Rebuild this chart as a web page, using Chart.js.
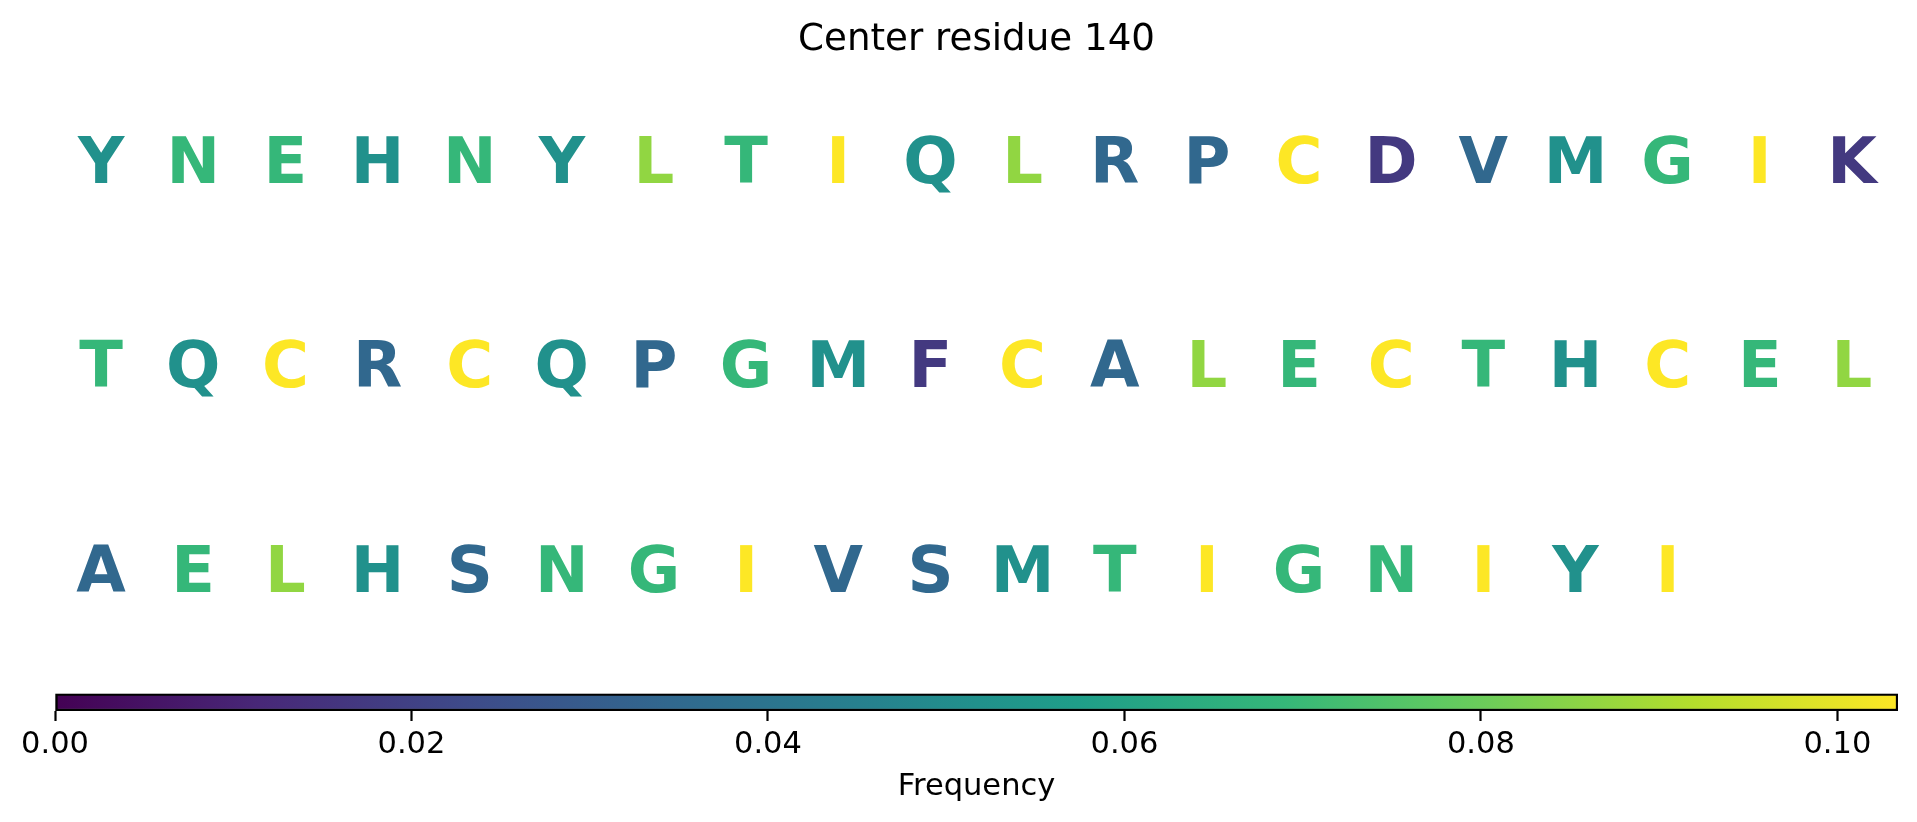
<!DOCTYPE html>
<html>
<head>
<meta charset="utf-8">
<title>Center residue 140</title>
<script src="https://cdn.jsdelivr.net/npm/chart.js@4.4.1/dist/chart.umd.min.js"></script>
<style>
  html, body { margin: 0; padding: 0; background: #ffffff; }
  body { width: 1917px; height: 822px; position: relative; overflow: hidden; }
  #letters-box { position: absolute; left: 0; top: 0; width: 1917px; height: 680px; }
  #cbar-box { position: absolute; left: 0; top: 680px; width: 1917px; height: 142px; }
</style>
</head>
<body>
<div id="letters-box"><canvas id="letters"></canvas></div>
<div id="cbar-box"><canvas id="cbar"></canvas></div>
<script>
// Residues shown in the window, one array per row of the grid
const row1 = ['Y','N','E','H','N','Y','L','T','I','Q','L','R','P','C','D','V','M','G','I','K'];
const row2 = ['T','Q','C','R','C','Q','P','G','M','F','C','A','L','E','C','T','H','C','E','L'];
const row3 = ['A','E','L','H','S','N','G','I','V','S','M','T','I','G','N','I','Y','I'];

// Frequency of each amino acid within the window
const aminoAcids = ['Y','N','E','H','L','T','I','Q','R','P','C','D','V','M','G','K','F','A','S'];
const frequency  = [0.0517, 0.0690, 0.0690, 0.0517, 0.0862, 0.0690, 0.1034, 0.0517, 0.0345, 0.0345,
                    0.1034, 0.0172, 0.0345, 0.0517, 0.0690, 0.0172, 0.0172, 0.0345, 0.0345];

// Colour bar range and tick labels
const cbarMin = 0;
const cbarMax = 0.1034;
const cbarTicks = [0.00, 0.02, 0.04, 0.06, 0.08, 0.10];

const titleText = 'Center residue 140';
const cbarLabel = 'Frequency';

// viridis colour map stops
const VIRIDIS = [
  [0, '#440154'], [1/9, '#482878'], [2/9, '#3e4a89'], [0.25, '#3b528b'],
  [1/3, '#31688e'], [4/9, '#26828e'], [0.5, '#21918c'], [5/9, '#1f9e89'],
  [2/3, '#35b779'], [0.75, '#5ec962'], [7/9, '#6dcd59'], [8/9, '#b4de2c'], [1, '#fde725']
];

function hexToRgb(h) {
  return [parseInt(h.slice(1, 3), 16), parseInt(h.slice(3, 5), 16), parseInt(h.slice(5, 7), 16)];
}
function viridis(t) {
  t = Math.max(0, Math.min(1, t));
  for (let i = 1; i < VIRIDIS.length; i++) {
    const [t1, c1] = VIRIDIS[i];
    if (t <= t1) {
      const [t0, c0] = VIRIDIS[i - 1];
      const f = (t - t0) / (t1 - t0);
      const a = hexToRgb(c0), b = hexToRgb(c1);
      const rgb = a.map((v, k) => Math.round(v + (b[k] - v) * f));
      return `rgb(${rgb[0]},${rgb[1]},${rgb[2]})`;
    }
  }
  return VIRIDIS[VIRIDIS.length - 1][1];
}
function colorFor(letter) {
  const f = frequency[aminoAcids.indexOf(letter)];
  return viridis((f - cbarMin) / (cbarMax - cbarMin));
}

Chart.defaults.font.family = "'DejaVu Sans', sans-serif";
Chart.defaults.color = '#000000';
Chart.defaults.animation = false;

// One point per residue: x = column, y = row
const rows = [row1, row2, row3];
const points = [];
rows.forEach((row, r) => row.forEach((letter, c) => points.push({ x: c, y: r, letter: letter })));

const LETTER_PX = 64;
const letterPlugin = {
  id: 'letterPlugin',
  afterDatasetsDraw(chart) {
    const ctx = chart.ctx;
    const meta = chart.getDatasetMeta(0);
    ctx.save();
    ctx.font = `bold ${LETTER_PX}px 'DejaVu Sans', sans-serif`;
    ctx.textAlign = 'center';
    ctx.textBaseline = 'alphabetic';
    meta.data.forEach((el, i) => {
      const p = chart.data.datasets[0].data[i];
      ctx.fillStyle = colorFor(p.letter);
      // centre the capitals on the point
      ctx.fillText(p.letter, el.x, el.y + 0.3645 * LETTER_PX);
    });
    ctx.restore();
  }
};

new Chart(document.getElementById('letters'), {
  type: 'scatter',
  data: {
    datasets: [{
      data: points,
      pointRadius: 0,
      pointHoverRadius: 0,
      showLine: false
    }]
  },
  options: {
    responsive: true,
    maintainAspectRatio: false,
    events: [],
    layout: { padding: { left: 55, right: 19, top: 0, bottom: 8.75 } },
    plugins: {
      legend: { display: false },
      tooltip: { enabled: false },
      title: {
        display: true,
        text: titleText,
        color: '#000000',
        font: { size: 37.2, weight: 'normal', lineHeight: 0.9 },
        padding: { top: 23.1, bottom: 0.4 }
      }
    },
    scales: {
      x: { type: 'linear', min: -0.5, max: 19.5, display: false },
      y: { type: 'linear', min: -0.5, max: 2.5, reverse: true, display: false }
    }
  },
  plugins: [letterPlugin]
});

new Chart(document.getElementById('cbar'), {
  type: 'bar',
  data: {
    labels: [''],
    datasets: [{
      data: [[cbarMin, cbarMax]],
      backgroundColor: (c) => {
        const chart = c.chart;
        if (!chart.chartArea) return '#21918c';
        const sx = chart.scales.x;
        const x0 = sx.getPixelForValue(cbarMin), x1 = sx.getPixelForValue(cbarMax);
        const g = chart.ctx.createLinearGradient(x0, 0, x1, 0);
        VIRIDIS.forEach(([t, col]) => g.addColorStop(t, col));
        return g;
      },
      borderColor: '#000000',
      borderWidth: 2.5,
      borderSkipped: false,
      barPercentage: 1,
      categoryPercentage: 1
    }]
  },
  options: {
    indexAxis: 'y',
    responsive: true,
    maintainAspectRatio: false,
    events: [],
    layout: { padding: { left: 55, right: 19, top: 13.5, bottom: 0 } },
    plugins: { legend: { display: false }, tooltip: { enabled: false } },
    scales: {
      y: { type: 'category', display: false },
      x: {
        type: 'linear',
        min: cbarMin,
        max: cbarMax,
        afterBuildTicks: (scale) => { scale.ticks = cbarTicks.map(v => ({ value: v })); },
        afterFit: (scale) => { scale.height = 142 - 13.5 - 17.5; },
        ticks: {
          includeBounds: false,
          padding: 6,
          color: '#000000',
          font: { size: 30.5 },
          maxRotation: 0,
          callback: (v) => Number(v).toFixed(2)
        },
        grid: {
          display: true,
          drawOnChartArea: false,
          drawTicks: true,
          tickLength: 10,
          tickWidth: 2.2,
          tickColor: '#000000'
        },
        border: { display: false },
        title: {
          display: true,
          text: cbarLabel,
          color: '#000000',
          font: { size: 30.5, lineHeight: 1.2 },
          padding: { top: 0, bottom: 16.5 }
        }
      }
    }
  }
});
</script>
</body>
</html>
